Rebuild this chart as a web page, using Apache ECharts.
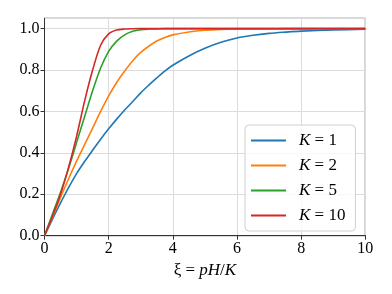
<!DOCTYPE html>
<html><head><meta charset="utf-8">
<script src="https://cdn.jsdelivr.net/npm/echarts@6/dist/echarts.min.js"></script>
<style>html,body{margin:0;padding:0;background:#fff}#c{width:392px;height:294px}</style>
</head><body><div id="c"></div>
<script>
const xi  = [0,0.25,0.5,0.75,1,1.25,1.5,1.75,2,2.25,2.5,2.75,3,3.25,3.5,3.75,4,4.5,5,5.5,6,6.5,7,7.5,8,9,10];
const k1  = [0,0.08,0.158,0.232,0.300,0.358,0.413,0.466,0.516,0.563,0.607,0.648,0.690,0.727,0.762,0.795,0.823,0.868,0.905,0.934,0.955,0.968,0.977,0.983,0.988,0.994,0.997];
const k2  = [0,0.09,0.185,0.275,0.36,0.44,0.52,0.60,0.675,0.74,0.795,0.845,0.885,0.915,0.94,0.957,0.97,0.984,0.992,0.996,0.998,0.999,0.9995,1,1,1,1];
const k5  = [0,0.105,0.21,0.325,0.45,0.575,0.70,0.81,0.89,0.94,0.97,0.987,0.995,0.998,0.999,1,1,1,1,1,1,1,1,1,1,1,1];
const k10 = [0,0.095,0.20,0.33,0.48,0.65,0.80,0.92,0.975,0.993,0.998,0.9995,1,1,1,1,1,1,1,1,1,1,1,1,1,1,1];
const kLabels = ['1','2','5','10'];
const colors = ['#1f77b4','#ff7f0e','#2ca02c','#d62728'];
const xTicks = [0,2,4,6,8,10];
const yTicks = [0,0.2,0.4,0.6,0.8,1.0];

const serif = 'Liberation Serif, DejaVu Serif, serif';
const allY = [k1,k2,k5,k10];
const series = allY.map((ys,i)=>({
  name: 'K = ' + kLabels[i],
  type: 'line',
  data: xi.map((x,j)=>[x, ys[j]]),
  showSymbol: false,
  symbol: 'none',
  smooth: 0.3,
  lineStyle: {color: colors[i], width: 1.6},
  itemStyle: {color: colors[i]},
  z: 3 + i
}));

const chart = echarts.init(document.getElementById('c'), null, {renderer:'canvas'});
chart.setOption({
  animation: false,
  backgroundColor: '#fff',
  grid: {left: 44.5, right: 26.7, top: 18.3, bottom: 58.3, show: true, borderColor: '#333', borderWidth: 1, backgroundColor: 'transparent'},
  xAxis: {
    type: 'value', min: 0, max: 10, interval: 2,
    axisLine: {show: true, onZero: false, lineStyle: {color: '#333', width: 1}},
    axisTick: {show: true, inside: false, length: 4, lineStyle: {color: '#333'}},
    axisLabel: {color: '#000', fontFamily: serif, fontSize: 16, margin: 5,
      formatter: v => xTicks.includes(v) ? String(v) : ''},
    splitLine: {show: true, lineStyle: {color: '#dcdcdc', width: 1}},
    name: '{r|ξ = }{i|pH}{r|/}{i|K}',
    nameLocation: 'middle', nameGap: 25,
    nameTextStyle: {rich: {
      r: {fontFamily: serif, fontSize: 17, color: '#000'},
      i: {fontFamily: serif, fontSize: 17, fontStyle: 'italic', color: '#000'}
    }}
  },
  yAxis: {
    type: 'value', min: 0, max: 1.05, interval: 0.2,
    axisLine: {show: true, onZero: false, lineStyle: {color: '#333', width: 1}},
    axisTick: {show: true, inside: false, length: 4, lineStyle: {color: '#333'}},
    axisLabel: {color: '#000', fontFamily: serif, fontSize: 16, margin: 5, showMaxLabel: false,
      formatter: v => yTicks.some(t => Math.abs(t - v) < 1e-9) ? v.toFixed(1) : ''},
    splitLine: {show: true, lineStyle: {color: '#dcdcdc', width: 1}}
  },
  legend: {
    orient: 'vertical', left: 245, top: 125,
    icon: 'rect', itemWidth: 35, itemHeight: 2, itemGap: 8,
    padding: [7, 10, 7, 6],
    borderColor: '#d0d0d0', borderWidth: 1, borderRadius: 4,
    backgroundColor: 'rgba(255,255,255,0.8)',
    data: series.map((s,i)=>({name: s.name, itemStyle: {color: colors[i]}})),
    formatter: n => '{i|K}{n| = ' + n.split('= ')[1] + '}',
    textStyle: {padding: [0,0,0,8], rich: {
      i: {fontFamily: serif, fontSize: 17, fontStyle: 'italic', color: '#000', lineHeight: 18},
      n: {fontFamily: serif, fontSize: 17, color: '#000', lineHeight: 18}
    }}
  },
  series: series
});
</script>
</body></html>
